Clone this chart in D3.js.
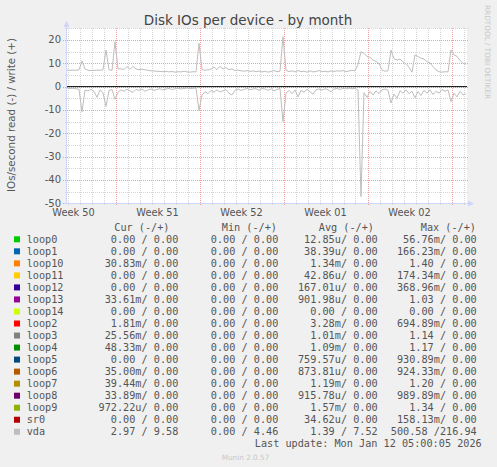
<!DOCTYPE html>
<html>
<head>
<meta charset="utf-8">
<script src="https://cdn.jsdelivr.net/npm/d3@7"></script>
<style>
  html, body { margin: 0; padding: 0; background: #f0f0f0; }
  svg { display: block; }
  text { fill: #555; font-family: "DejaVu Sans", sans-serif; }
  .mono { font-family: "DejaVu Sans Mono", monospace; font-size: 10.2px; white-space: pre; }
</style>
</head>
<body>
<script>
// vda samples every 6 hours, first one at t0
var t0 = Date.UTC(2025, 11, 9, 23, 0),
    t1 = t0 + 800 * 3600e3,
    step = 6 * 3600e3;

var vdaWrite = [7.1,7.0,7.1,7.0,7.2,11.0,7.6,7.0,6.9,7.0,7.1,7.0,7.2,15.7,7.2,7.0,19.3,7.6,7.6,7.3,
  8.6,7.4,8.7,7.5,7.3,7.5,7.2,7.0,6.8,6.7,6.6,6.5,6.4,6.6,6.3,6.5,6.2,6.4,6.3,6.6,
  6.3,6.2,6.4,6.3,18.6,7.4,7.0,7.2,7.5,8.4,7.3,8.7,7.6,8.2,7.2,7.6,6.9,7.1,6.8,6.6,
  6.9,6.5,6.8,6.4,6.7,6.3,6.6,6.2,6.5,6.9,6.4,6.6,21.4,7.0,6.4,6.8,6.3,6.9,6.4,6.6,
  6.2,6.8,6.3,6.5,6.9,6.4,6.6,6.3,6.7,6.5,6.8,6.6,6.9,6.4,6.7,7.0,6.8,9.5,15.0,14.2,
  13.0,12.6,11.4,10.8,9.8,7.2,6.6,6.8,15.7,12.0,11.4,11.8,10.6,9.8,8.3,6.2,13.6,12.9,12.2,11.8,
  10.7,10.2,8.6,7.2,6.4,6.2,6.4,6.3,15.7,13.6,13.0,11.2,10.0,9.6];

var vdaRead = [0.6,0.8,0.7,0.9,1.2,10.8,1.5,1.8,1.2,2.0,4.6,1.4,2.6,8.5,1.7,1.2,5.4,2.4,1.4,2.0,
  1.1,1.8,2.5,1.2,1.6,1.0,2.0,1.4,1.0,1.6,1.2,0.9,1.4,1.0,0.8,1.2,0.9,0.7,1.0,0.8,
  0.6,0.9,0.7,0.6,10.2,3.6,2.2,3.0,1.6,2.4,1.4,2.3,1.8,1.2,2.8,3.6,1.6,1.0,1.6,1.2,
  0.8,1.3,1.0,0.9,1.6,0.8,1.0,1.6,0.9,1.8,1.2,0.8,15.0,2.8,1.6,3.0,1.4,4.4,1.6,2.4,
  1.2,2.2,3.2,1.4,1.0,1.5,0.9,1.3,2.2,1.0,0.8,1.2,0.7,1.0,0.6,0.9,0.7,1.5,47.1,2.6,
  4.6,2.0,3.6,1.8,3.0,1.4,1.0,1.6,7.0,3.2,5.0,1.8,2.8,1.4,3.0,2.0,4.8,2.0,3.8,1.6,
  2.8,1.4,3.4,2.0,2.8,1.2,2.0,1.4,6.4,2.8,4.4,2.0,3.6,3.0];

var devices = ["loop0","loop1","loop10","loop11","loop12","loop13","loop14","loop2","loop3",
  "loop4","loop5","loop6","loop7","loop8","loop9","sr0","vda"];
var colors = ["#00cc00","#0066b3","#ff8000","#ffcc00","#330099","#990099","#ccff00","#ff0000","#808080",
  "#008f00","#00487d","#b35a00","#b38f00","#6b006b","#8fb300","#b30000","#bebebe"];

var curRead  = [0,0,0.03083,0,0,0.03361,0,0.00181,0.02556,0.04833,0,0.035,0.03944,0.03389,0.00097222,0,2.97];
var curWrite = [0,0,0,0,0,0,0,0,0,0,0,0,0,0,0,0,9.58];
var minRead  = [0,0,0,0,0,0,0,0,0,0,0,0,0,0,0,0,0];
var minWrite = [0,0,0,0,0,0,0,0,0,0,0,0,0,0,0,0,4.46];
var avgRead  = [0.00001285,0.00003839,0.00134,0.00004286,0.00016701,0.00090198,0,0.00328,0.00101,
  0.00109,0.00075957,0.00087381,0.00119,0.00091578,0.00157,0.00003462,1.39];
var avgWrite = [0,0,0,0,0,0,0,0,0,0,0,0,0,0,0,0,7.52];
var maxRead  = [0.05676,0.16623,1.40,0.17434,0.36896,1.03,0,0.69489,1.14,
  1.17,0.93089,0.92433,1.20,0.98989,1.34,0.15813,500.58];
var maxWrite = [0,0,0,0,0,0,0,0,0,0,0,0,0,0,0,0,216.94];

var yTicks = [-50,-40,-30,-20,-10,0,10,20];
var headers = ["Cur (-/+)","Min (-/+)","Avg (-/+)","Max (-/+)"];
var lastUpdate = "Last update: Mon Jan 12 05:00:05 2026";

var W = 497, H = 467;
var svg = d3.select("body").append("svg").attr("width", W).attr("height", H);

var x = d3.scaleUtc().domain([t0, t1]).range([67, 467]),
    y = d3.scaleLinear().domain([-50, 25]).range([203.3, 28.3]);

svg.append("rect").attr("x", 67).attr("y", 28.3).attr("width", 400).attr("height", 175)
    .attr("fill", "#fff");

// minor grid
var g = svg.append("g").attr("shape-rendering", "crispEdges");
g.selectAll(".vmin").data(d3.utcDay.range(t0, t1)).enter().append("line")
    .attr("x1", function(d) { return Math.round(x(d)) + 0.5; })
    .attr("x2", function(d) { return Math.round(x(d)) + 0.5; })
    .attr("y1", 28).attr("y2", 205)
    .attr("stroke", "#d6d6d6").attr("stroke-dasharray", "1,1");
g.selectAll(".hmin").data(d3.range(-45, 26, 10)).enter().append("line")
    .attr("x1", 65).attr("x2", 469)
    .attr("y1", function(d) { return Math.round(y(d)) + 0.5; })
    .attr("y2", function(d) { return Math.round(y(d)) + 0.5; })
    .attr("stroke", "#d6d6d6").attr("stroke-dasharray", "1,1");
// major grid
g.selectAll(".vmaj").data(d3.utcSunday.range(t0, t1)).enter().append("line")
    .attr("x1", function(d) { return Math.round(x(d)) + 0.5; })
    .attr("x2", function(d) { return Math.round(x(d)) + 0.5; })
    .attr("y1", 28).attr("y2", 206)
    .attr("stroke", "#f0a0a0").attr("stroke-dasharray", "1,1");
g.selectAll(".hmaj").data(yTicks).enter().append("line")
    .attr("x1", 63).attr("x2", 469)
    .attr("y1", function(d) { return Math.round(y(d)) + 0.5; })
    .attr("y2", function(d) { return Math.round(y(d)) + 0.5; })
    .attr("stroke", "#f0a0a0").attr("stroke-dasharray", "1,1");

// y tick labels
svg.selectAll(".ylab").data(yTicks).enter().append("text")
    .attr("x", 61).attr("y", function(d) { return y(d) + 3.2; })
    .attr("text-anchor", "end").style("font-size", "10px")
    .text(function(d) { return d; });

// week labels, centred in each week
var weeks = d3.utcSunday.range(t0 - 7 * 864e5, t1).map(function(d) { return new Date(+d + 3.5 * 864e5); })
    .filter(function(d) { return x(d) >= 67 && x(d) <= 467; });
svg.selectAll(".xlab").data(weeks).enter().append("text")
    .attr("x", function(d) { return x(d); }).attr("y", 215.6)
    .attr("text-anchor", "middle").style("font-size", "9.8px")
    .text(function(d) { return "Week " + d3.utcFormat("%V")(d); });

// series
var idx = d3.range(vdaWrite.length);
var line = d3.line().x(function(i) { return x(t0 + i * step); });
svg.append("path").datum(idx)
    .attr("d", line.y(function(i) { return y(-vdaRead[i]); }))
    .attr("fill", "none").attr("stroke", "#bebebe").attr("stroke-width", 1);
svg.append("path").datum(idx)
    .attr("d", line.y(function(i) { return y(vdaWrite[i]); }))
    .attr("fill", "none").attr("stroke", "#bebebe").attr("stroke-width", 1);

// zero line
svg.append("line").attr("x1", 67).attr("x2", 467)
    .attr("y1", y(0)).attr("y2", y(0))
    .attr("stroke", "#000").attr("stroke-width", 1);

// axes
svg.append("line").attr("x1", 66.5).attr("x2", 66.5).attr("y1", 203.5).attr("y2", 24)
    .attr("stroke", "#cfd6f8");
svg.append("line").attr("x1", 64).attr("x2", 470).attr("y1", 203.5).attr("y2", 203.5)
    .attr("stroke", "#cfd6f8");
svg.append("path").attr("d", "M63.5,27L66.5,20.5L69.5,27Z").attr("fill", "#cfd6f8");
svg.append("path").attr("d", "M468,200.5L474,203.5L468,206.5Z").attr("fill", "#cfd6f8");

// titles
svg.append("text").attr("x", 248).attr("y", 25).attr("text-anchor", "middle")
    .style("font-size", "13.5px").style("fill", "#444")
    .text("Disk IOs per device - by month");
svg.append("text").attr("transform", "translate(14.5,115) rotate(-90)")
    .attr("text-anchor", "middle").style("font-size", "10.3px")
    .text("IOs/second read (-) / write (+)");
svg.append("text").attr("transform", "translate(485,5) rotate(90)")
    .style("font-size", "7.3px").style("fill", "#c8c8c8")
    .text("RRDTOOL / TOBI OETIKER");

// legend
function si(v) {
  if (v === 0) return { n: "0.00", u: " " };
  if (v < 1e-3) return { n: (v * 1e6).toFixed(2), u: "u" };
  if (v < 1) return { n: (v * 1e3).toFixed(2), u: "m" };
  return { n: v.toFixed(2), u: " " };
}
function cell(r, w) {
  var a = si(r), b = si(w);
  var ws = b.n + (b.u === " " ? "" : b.u);
  while (ws.length < 5) ws = " " + ws;
  return a.n + a.u + "/" + ws;
}
var colX = [178.3, 278.3, 377.7, 476.7];
var headX = [169.5, 277, 374, 476];
svg.selectAll(".head").data(headers).enter().append("text")
    .attr("class", "mono").attr("x", function(d, i) { return headX[i]; }).attr("y", 231.4)
    .attr("text-anchor", "end").text(function(d) { return d; });

var rowY = function(i) { return 239.3 + i * 12.03; };
var rows = svg.selectAll(".row").data(devices).enter().append("g");
rows.append("rect").attr("x", 14).attr("y", function(d, i) { return rowY(i) - 3; })
    .attr("width", 6).attr("height", 6)
    .attr("fill", function(d, i) { return colors[i]; });
rows.append("text").attr("class", "mono").attr("x", 26.7)
    .attr("y", function(d, i) { return rowY(i) + 3.7; })
    .text(function(d) { return d; });
var cols = [[curRead, curWrite], [minRead, minWrite], [avgRead, avgWrite], [maxRead, maxWrite]];
cols.forEach(function(c, k) {
  rows.append("text").attr("class", "mono").attr("x", colX[k])
      .attr("y", function(d, i) { return rowY(i) + 3.7; })
      .attr("text-anchor", "end")
      .text(function(d, i) { return cell(c[0][i], c[1][i]); });
});

svg.append("text").attr("class", "mono").attr("x", 481.7).attr("y", 447)
    .attr("text-anchor", "end").text(lastUpdate);
svg.append("text").attr("x", 245.5).attr("y", 459.5).attr("text-anchor", "middle")
    .style("font-size", "7.3px").style("fill", "#c8c8c8").text("Munin 2.0.57");
</script>
</body>
</html>
